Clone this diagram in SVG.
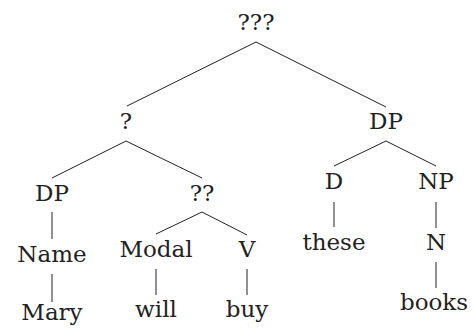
<svg xmlns="http://www.w3.org/2000/svg" width="474" height="328" viewBox="0 0 474 328">
<style>
text{font-family:"DejaVu Serif","Liberation Serif",serif;font-size:23px;fill:#222;text-anchor:middle}
#edges line{stroke:#222;stroke-width:1}
</style>
<rect width="474" height="328" fill="#fff"/>
<g id="edges">
<line x1="256" y1="42" x2="127" y2="106"/>
<line x1="256" y1="42" x2="386" y2="107"/>
<line x1="126" y1="141" x2="52" y2="178"/>
<line x1="126" y1="141" x2="202" y2="178"/>
<line x1="386" y1="141" x2="334" y2="166"/>
<line x1="386" y1="141" x2="436" y2="166"/>
<line x1="52" y1="212" x2="52" y2="239"/>
<line x1="202" y1="212" x2="156" y2="234"/>
<line x1="202" y1="212" x2="247" y2="235"/>
<line x1="334" y1="202" x2="334" y2="227"/>
<line x1="436" y1="202" x2="436" y2="228"/>
<line x1="52" y1="274" x2="52" y2="302"/>
<line x1="156" y1="269" x2="156" y2="295"/>
<line x1="247" y1="269" x2="247" y2="295"/>
<line x1="436" y1="262" x2="436" y2="288"/>
</g>
<g id="n-root"><text x="256" y="30">???</text></g>
<g id="n-q1"><text x="126" y="129">?</text></g>
<g id="n-dp2"><text x="386" y="129">DP</text></g>
<g id="n-dp1"><text x="52" y="201">DP</text></g>
<g id="n-q2"><text x="202" y="201">??</text></g>
<g id="n-d"><text x="334" y="189">D</text></g>
<g id="n-np"><text x="436" y="189">NP</text></g>
<g id="n-name"><text x="52" y="262">Name</text></g>
<g id="n-modal"><text x="156" y="257">Modal</text></g>
<g id="n-v"><text x="247" y="257">V</text></g>
<g id="n-these"><text x="334" y="250">these</text></g>
<g id="n-n"><text x="436" y="250">N</text></g>
<g id="n-mary"><text x="52" y="320">Mary</text></g>
<g id="n-will"><text x="156" y="317">will</text></g>
<g id="n-buy"><text x="247" y="317">buy</text></g>
<g id="n-books"><text x="434" y="310">books</text></g>
</svg>
